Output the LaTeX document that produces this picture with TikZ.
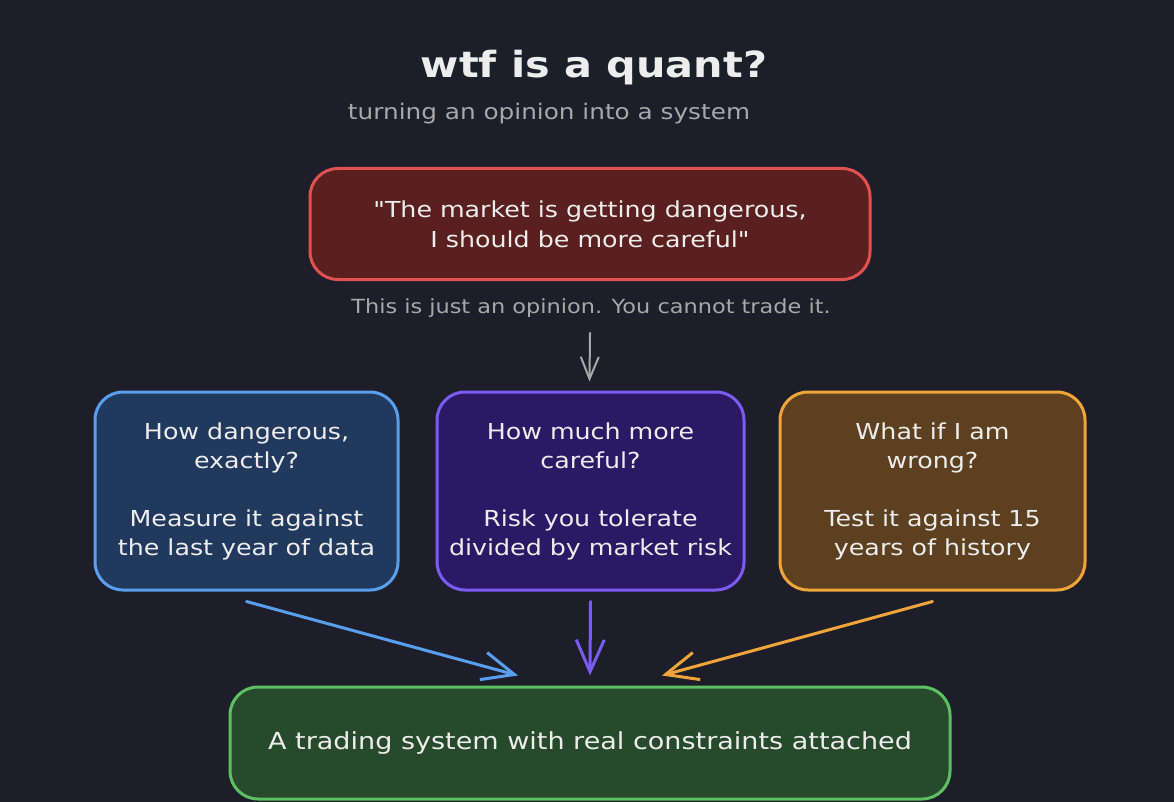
\documentclass[tikz,border=0pt]{standalone}
\usepackage{fontspec}
\setmainfont{DejaVu Sans}[FakeStretch=1.15]
\newfontfamily\plainfont{DejaVu Sans}[FakeStretch=1.15]
\newcommand{\dq}{{\plainfont\symbol{34}}}
\usetikzlibrary{arrows.meta,calc}
\definecolor{bg}{HTML}{1E1E2B}
\definecolor{txt}{HTML}{EDEDED}
\definecolor{muted}{HTML}{A8A8A8}
\definecolor{redfill}{HTML}{5A1F1F}
\definecolor{redline}{HTML}{E0524F}
\definecolor{bluefill}{HTML}{22395E}
\definecolor{blueline}{HTML}{5A9FEE}
\definecolor{purpfill}{HTML}{2A1A66}
\definecolor{purpline}{HTML}{7B5CF2}
\definecolor{orfill}{HTML}{5C4020}
\definecolor{orline}{HTML}{F0A53A}
\definecolor{grfill}{HTML}{264A2B}
\definecolor{grline}{HTML}{5DC063}
\begin{document}
\begin{tikzpicture}[x=1pt,y=-1pt,
  box/.style={draw, line width=3pt, rounded corners=28pt, align=center, text=txt, inner sep=0pt,
    font=\fontsize{22}{29}\selectfont},
  conn/.style={line width=3pt, line cap=round,
    -{Straight Barb[length=32pt,width=28pt,line width=3pt]}},
  thinconn/.style={line width=2pt, line cap=round,
    -{Straight Barb[length=22pt,width=18pt,line width=2pt]}}]
\fill[bg] (0,0) rectangle (1174,802);
\useasboundingbox (0,0) rectangle (1174,802);

\node[font=\fontsize{36}{40}\selectfont\bfseries, text=txt] (title) at (594,68) {wtf is a quant?};
\node[font=\fontsize{21.5}{24}\selectfont, text=muted] (sub) at (549,114) {turning an opinion into a system};

\node[box, fill=redfill, draw=redline, minimum width=560pt, minimum height=111pt,
  font=\fontsize{22}{30}\selectfont] (opinion) at (590,224)
  {\dq The market is getting dangerous,\\ I should be more careful\dq};

\node[font=\fontsize{19.5}{24}\selectfont, text=muted] (note) at (591,308)
  {This is just an opinion. You cannot trade it.};

\node[box, fill=bluefill, draw=blueline, minimum width=303pt, minimum height=198pt] (danger) at (246.5,491)
  {How dangerous,\\ exactly?\\[29pt] Measure it against\\ the last year of data};
\node[box, fill=purpfill, draw=purpline, minimum width=307pt, minimum height=198pt] (careful) at (590.5,491)
  {How much more\\ careful?\\[29pt] Risk you tolerate\\ divided by market risk};
\node[box, fill=orfill, draw=orline, minimum width=305pt, minimum height=198pt] (wrong) at (932.5,491)
  {What if I am\\ wrong?\\[29pt] Test it against 15\\ years of history};

\node[box, fill=grfill, draw=grline, minimum width=720pt, minimum height=112pt,
  font=\fontsize{23.5}{26}\selectfont] (system) at (590,743)
  {A trading system with real constraints attached};

\draw[thinconn, muted] ($(note.south)+(-1,12)$) -- ($(careful.north)+(-1,-9)$);
\draw[conn, blueline] ($(danger.south)+(0,10)$) -- ($(system.north)+(-72,-10)$);
\draw[conn, purpline] ($(careful.south)+(0,10)$) -- ($(system.north)+(0,-10)$);
\draw[conn, orline] ($(wrong.south)+(0,10)$) -- ($(system.north)+(72,-10)$);
\end{tikzpicture}
\end{document}
